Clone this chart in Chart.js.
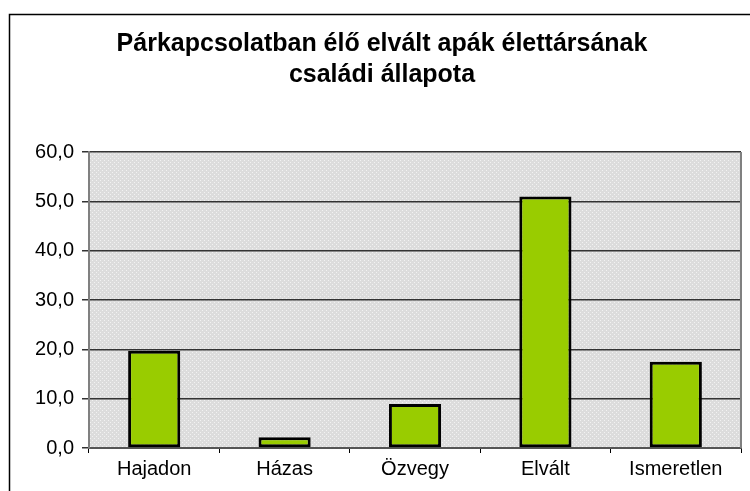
<!DOCTYPE html>
<html>
<head>
<meta charset="utf-8">
<script src="https://cdn.jsdelivr.net/npm/chart.js@4/dist/chart.umd.min.js"></script>
<style>
  html, body { margin: 0; padding: 0; background: #fff; }
  #wrap { width: 750px; height: 491px; }
</style>
</head>
<body>
<div id="wrap"><canvas id="chart" width="750" height="491"></canvas></div>
<script>
const categories = ['Hajadon', 'Házas', 'Özvegy', 'Elvált', 'Ismeretlen'];
const shares = [19.7, 2.2, 8.9, 51.0, 17.5];
const titleLines = ['Párkapcsolatban élő elvált apák élettársának', 'családi állapota'];
const yMin = 0;
const yMax = 60;
const yStep = 10;

// light gray dotted fill like the old spreadsheet plot area
function makePattern() {
    const c = document.createElement('canvas');
    c.width = 4;
    c.height = 4;
    const g = c.getContext('2d');
    g.fillStyle = '#dcdcdc';
    g.fillRect(0, 0, 4, 4);
    g.fillStyle = '#f2f2f2';
    g.fillRect(0, 0, 1, 1);
    g.fillRect(2, 2, 1, 1);
    return g.createPattern(c, 'repeat');
}

const plotArea = {
    id: 'plotArea',
    beforeDraw(chart) {
        const {ctx, chartArea: a} = chart;
        ctx.save();
        ctx.fillStyle = makePattern();
        ctx.fillRect(a.left, a.top, a.right - a.left, a.bottom - a.top);
        // outer chart frame, only top and left show in the crop
        ctx.strokeStyle = '#000';
        ctx.lineWidth = 1.5;
        ctx.beginPath();
        ctx.moveTo(9.5, 491);
        ctx.lineTo(9.5, 14.5);
        ctx.lineTo(750, 14.5);
        ctx.stroke();
        ctx.restore();
    },
    afterDatasetsDraw(chart) {
        const {ctx, chartArea: a} = chart;
        ctx.save();
        ctx.strokeStyle = '#808080';
        ctx.lineWidth = 2;
        ctx.beginPath();
        ctx.moveTo(a.right, a.top);
        ctx.lineTo(a.right, a.bottom);
        ctx.stroke();
        ctx.restore();
    }
};

const chartContainer = document.getElementById('chart').getContext('2d');

new Chart(chartContainer, {
    type: 'bar',
    data: {
        labels: categories,
        datasets: [{
            data: shares,
            backgroundColor: '#99cc00',
            borderColor: '#000',
            borderWidth: 3,
            borderSkipped: false,
            categoryPercentage: 1,
            barPercentage: 0.4
        }]
    },
    options: {
        responsive: false,
        animation: false,
        layout: {
            padding: {left: 23, right: 9, top: 0, bottom: 0}
        },
        plugins: {
            legend: {display: false},
            tooltip: {enabled: false},
            title: {
                display: true,
                text: titleLines,
                color: '#000',
                font: {family: 'Liberation Sans', size: 25, weight: 'bold', lineHeight: 1.22},
                padding: {top: 29, bottom: 62}
            }
        },
        scales: {
            x: {
                offset: true,
                grid: {
                    offset: true,
                    drawOnChartArea: false,
                    drawTicks: true,
                    tickLength: 5,
                    color: '#000'
                },
                border: {color: '#555', width: 2},
                ticks: {
                    color: '#000',
                    padding: 4,
                    font: {family: 'Liberation Sans', size: 20}
                },
                afterFit(scale) {
                    scale.height = 43;
                }
            },
            y: {
                min: yMin,
                max: yMax,
                grid: {
                    color: '#333',
                    lineWidth: 1.5,
                    tickLength: 7,
                    drawTicks: true
                },
                border: {color: '#808080', width: 2},
                ticks: {
                    stepSize: yStep,
                    color: '#000',
                    padding: 8,
                    font: {family: 'Liberation Sans', size: 20},
                    callback: function(value) {
                        return value.toFixed(1).replace('.', ',');
                    }
                },
                afterFit(scale) {
                    scale.width = 66;
                }
            }
        }
    },
    plugins: [plotArea]
});
</script>
</body>
</html>
